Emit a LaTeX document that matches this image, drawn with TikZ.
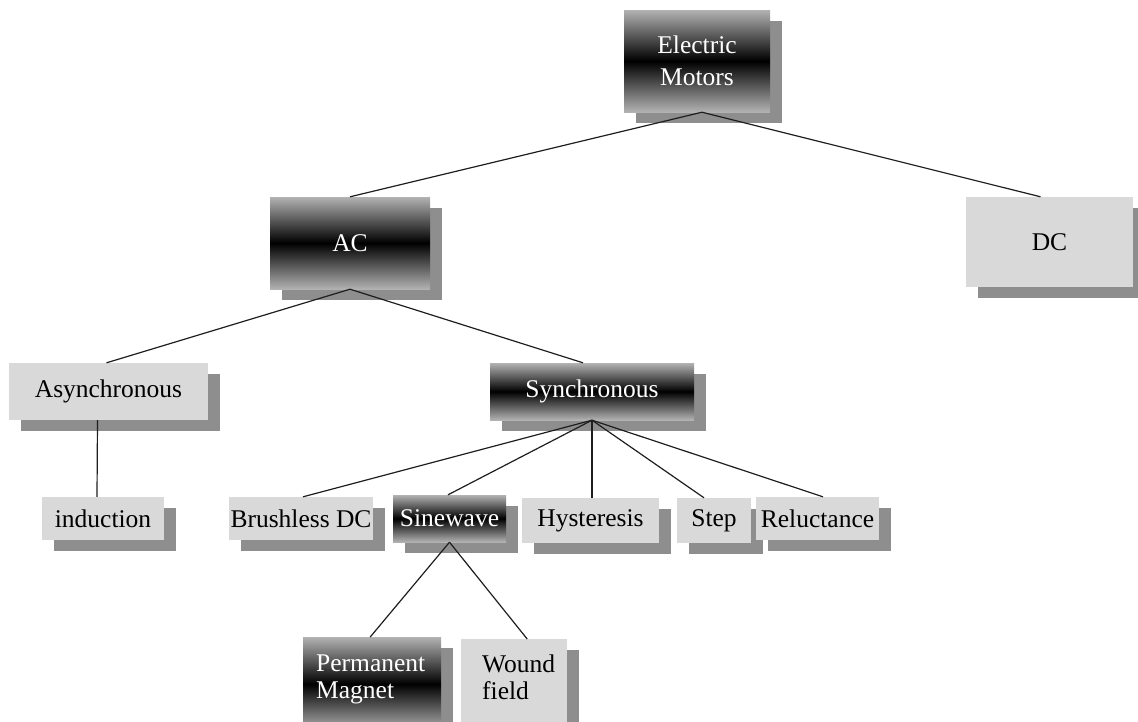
\documentclass[tikz,border=0pt]{standalone}
\usepackage{fontspec}
\setmainfont{Liberation Serif}
\usetikzlibrary{shadows,calc}
\definecolor{boxgray}{RGB}{217,217,217}
\definecolor{shadowc}{RGB}{142,142,142}
\definecolor{edgegray}{RGB}{178,178,178}
\definecolor{linec}{RGB}{30,30,30}
\begin{document}
\begin{tikzpicture}[x=1pt,y=-1pt,
  base/.style={rectangle, inner sep=0pt, font=\fontsize{25.5}{27}\selectfont,
    general shadow={fill=shadowc, shadow xshift=12pt, shadow yshift=-11pt}},
  darkbox/.style={base, top color=edgegray, bottom color=edgegray, middle color=black, text=white},
  lightbox/.style={base, fill=boxgray, text=black},
  conn/.style={draw=linec, line width=1.2pt}]
\useasboundingbox (0,0) rectangle (1138,721);
\clip (0,0) rectangle (1138,721);

\node[darkbox, minimum width=146pt, minimum height=102pt, align=center] (em) at (697,61) {Electric\\[5pt]Motors};
\node[darkbox, minimum width=160pt, minimum height=92pt] (ac) at (350,243) {AC};
\node[lightbox, minimum width=167pt, minimum height=90pt] (dc) at (1049.5,242) {DC};
\node[lightbox, minimum width=199pt, minimum height=57pt] (async) at (108.5,391.5) {Asynchronous};
\node[darkbox, minimum width=204pt, minimum height=57pt] (sync) at (592,391.5) {Synchronous};
\node[lightbox, minimum width=122pt, minimum height=43pt] (ind) at (103,518.5) {induction};
\node[lightbox, minimum width=144pt, minimum height=43pt] (bldc) at (301,518.5) {Brushless DC};
\node[darkbox, minimum width=113pt, minimum height=47pt] (sine) at (449.5,518.5) {Sinewave};
\node[lightbox, minimum width=137pt, minimum height=45pt] (hyst) at (590.5,520.5) {Hysteresis};
\node[lightbox, minimum width=74pt, minimum height=45pt] (step) at (714,520.5) {Step};
\node[lightbox, minimum width=123pt, minimum height=43pt] (rel) at (817.5,518.5) {Reluctance};
\node[darkbox, anchor=north west, text width=112pt, inner xsep=13pt, inner ysep=18pt, align=left] (pm) at (303,637) {Permanent\\Magnet\rule[-14pt]{0pt}{14pt}};
\node[lightbox, anchor=north west, text width=64pt, inner xsep=21pt, inner ysep=16pt, align=left] (wf) at (461,639) {Wound\\field\rule[-16pt]{0pt}{16pt}};

\draw[conn] ([xshift=5pt]em.south) -- (ac.north);
\draw[conn] ([xshift=5pt]em.south) -- ([xshift=-9pt]dc.north);
\draw[conn] (ac.south) -- ([xshift=-2pt]async.north);
\draw[conn] (ac.south) -- ([xshift=-9pt]sync.north);
\draw[conn] ([xshift=-11pt]async.south) -- ([xshift=-6pt]ind.north);
\draw[conn] (sync.south) -- ([xshift=2pt]bldc.north);
\draw[conn] (sync.south) -- ([xshift=-1.5pt]sine.north);
\draw[conn] (sync.south) -- ([xshift=1.5pt]hyst.north);
\draw[conn] (sync.south) -- ([xshift=-10pt]step.north);
\draw[conn] (sync.south) -- ([xshift=5.5pt]rel.north);
\draw[conn] (sine.south) -- ([xshift=-2pt]pm.north);
\draw[conn] (sine.south) -- ([xshift=13pt]wf.north);
\end{tikzpicture}
\end{document}
